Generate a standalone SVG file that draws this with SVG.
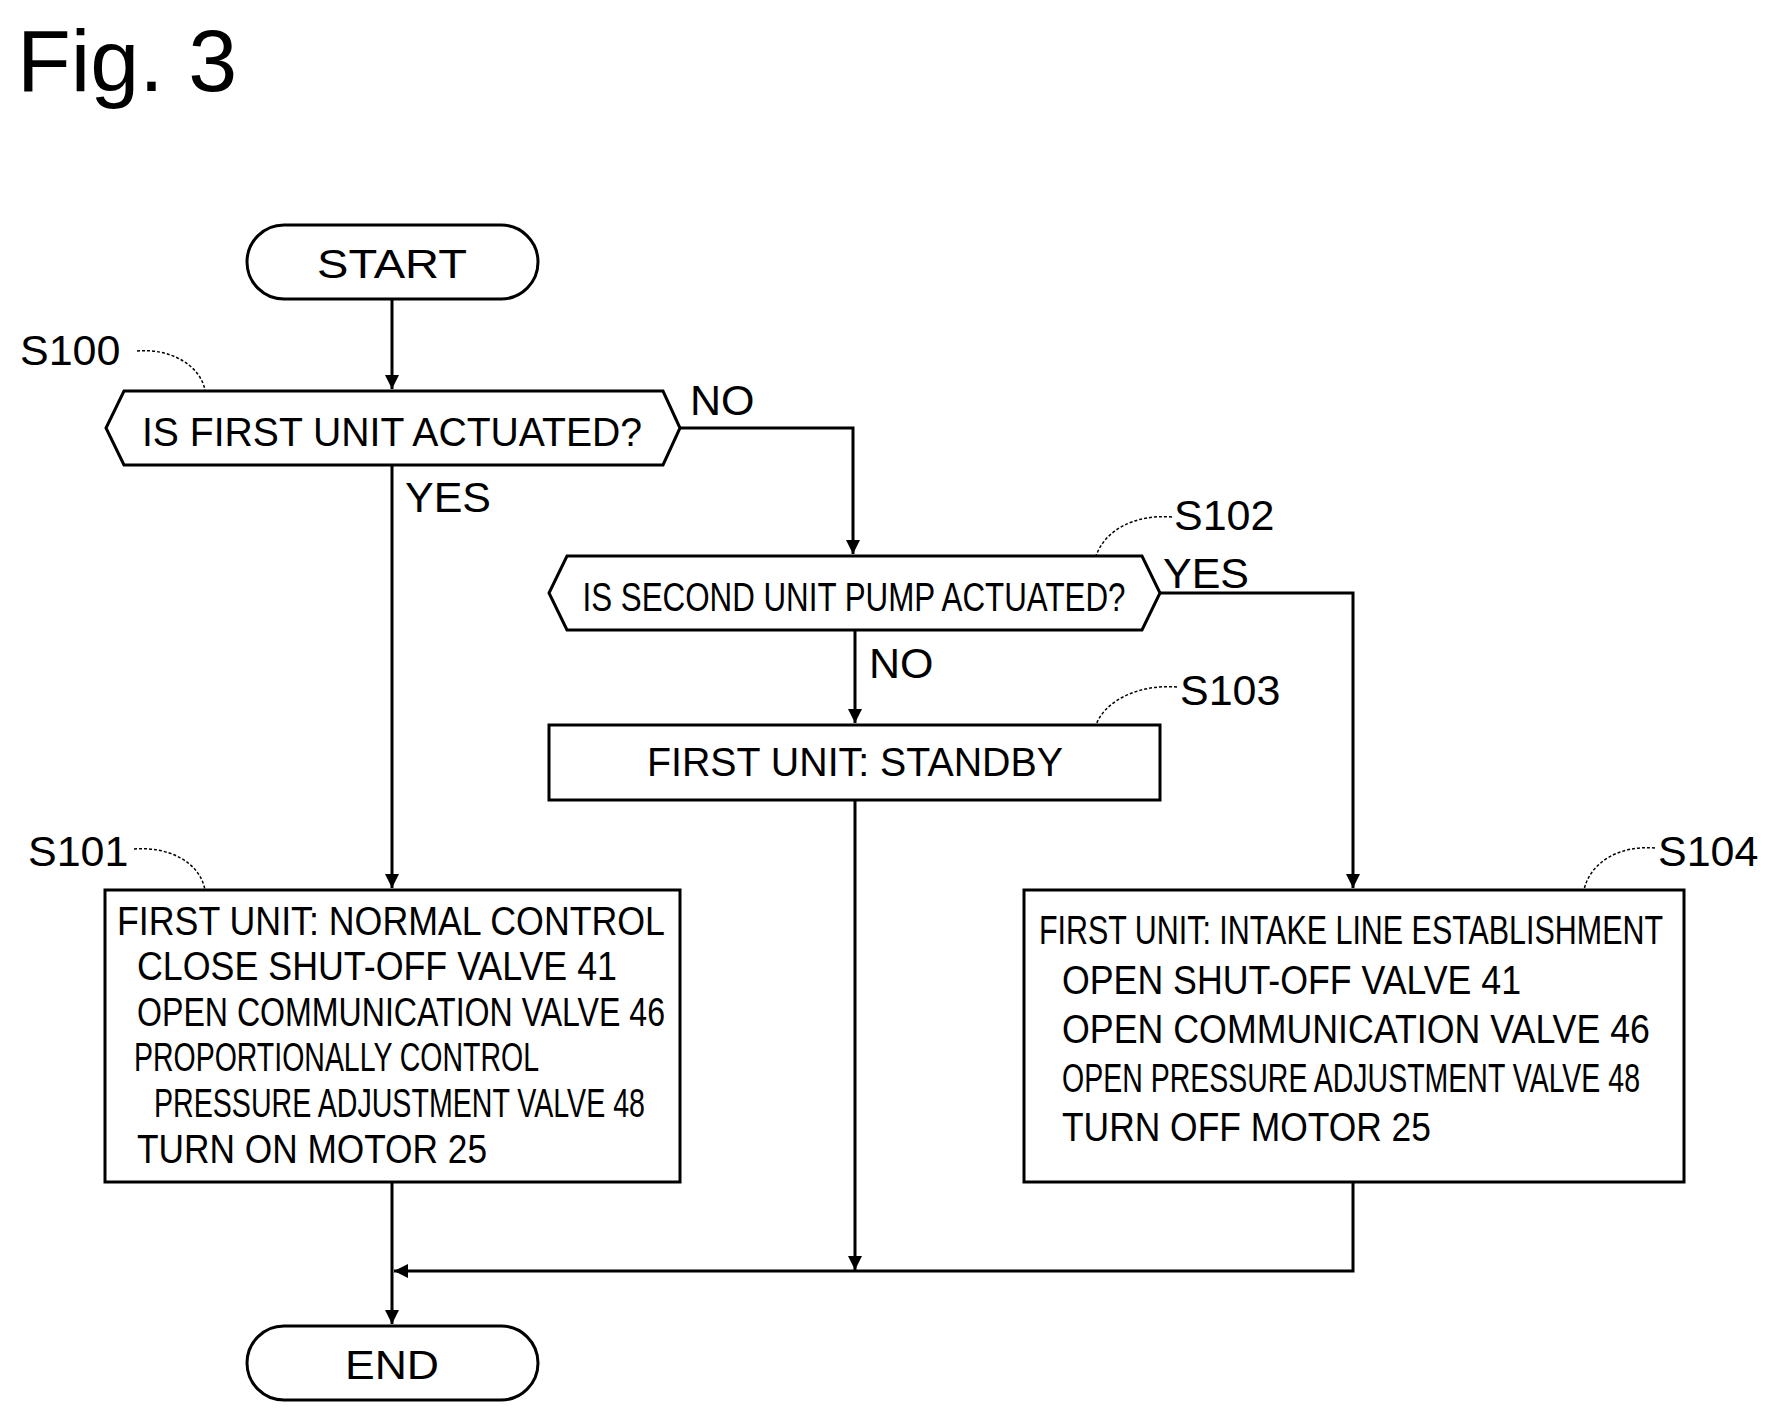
<svg xmlns="http://www.w3.org/2000/svg" width="1777" height="1416" viewBox="0 0 1777 1416">
<style>
text{font-family:"Liberation Sans",Arial,sans-serif;fill:#000}
.t{font-size:40px}
.c{text-anchor:middle}
.lbl{font-size:43px}
.s{fill:#fff;stroke:#000;stroke-width:3}
.ln{fill:none;stroke:#000;stroke-width:3}
.ld{fill:none;stroke:#000;stroke-width:1.5;stroke-dasharray:3 2}
</style>
<defs><marker id="ah" viewBox="0 0 10 10" refX="10" refY="5" markerWidth="14" markerHeight="16" orient="auto" markerUnits="userSpaceOnUse"><path d="M0,0L10,5L0,10z"/></marker></defs>
<text x="17" y="91" font-size="88">Fig. 3</text>
<g id="connectors">
<path class="ln" d="M392,299V389" marker-end="url(#ah)"/>
<path class="ln" d="M680,428H853V554" marker-end="url(#ah)"/>
<path class="ln" d="M392,465V888" marker-end="url(#ah)"/>
<path class="ln" d="M855,630V723" marker-end="url(#ah)"/>
<path class="ln" d="M1160,593H1353V888" marker-end="url(#ah)"/>
<path class="ln" d="M855,800V1270" marker-end="url(#ah)"/>
<path class="ln" d="M1353,1182V1271H394" marker-end="url(#ah)"/>
<path class="ln" d="M392,1182V1324" marker-end="url(#ah)"/>
<text x="690" y="415" class="lbl">NO</text>
<text x="405" y="512" class="lbl">YES</text>
<text x="1163" y="588" class="lbl">YES</text>
<text x="869" y="678" class="lbl">NO</text>
</g>
<g id="start"><rect class="s" x="247" y="225" width="291" height="74" rx="37"/><text x="392" y="278" class="t c" font-size="44" textLength="150" lengthAdjust="spacingAndGlyphs">START</text></g>
<g id="s100"><path class="s" d="M124,391H663L680,428L663,465H124L106,428Z"/><text x="392" y="446" class="t c" textLength="500" lengthAdjust="spacingAndGlyphs">IS FIRST UNIT ACTUATED?</text>
<text x="20" y="365" class="lbl">S100</text><path class="ld" d="M137,351C170,348 200,365 205,390"/></g>
<g id="s102"><path class="s" d="M567,556H1142L1160,593L1142,630H567L549,593Z"/><text x="854" y="611" class="t c" textLength="543" lengthAdjust="spacingAndGlyphs">IS SECOND UNIT PUMP ACTUATED?</text>
<text x="1174" y="530" class="lbl">S102</text><path class="ld" d="M1172,517C1135,514 1105,530 1096,556"/></g>
<g id="s103"><rect class="s" x="549" y="725" width="611" height="75"/><text x="855" y="776" class="t c" textLength="416" lengthAdjust="spacingAndGlyphs">FIRST UNIT: STANDBY</text>
<text x="1180" y="705" class="lbl">S103</text><path class="ld" d="M1177,687C1140,684 1105,700 1096,725"/></g>
<g id="s101"><rect class="s" x="105" y="890" width="575" height="292"/>
<text x="117" y="935" class="t" textLength="548" lengthAdjust="spacingAndGlyphs">FIRST UNIT: NORMAL CONTROL</text>
<text x="137" y="980" class="t" textLength="480" lengthAdjust="spacingAndGlyphs">CLOSE SHUT-OFF VALVE 41</text>
<text x="137" y="1026" class="t" textLength="528" lengthAdjust="spacingAndGlyphs">OPEN COMMUNICATION VALVE 46</text>
<text x="134" y="1071" class="t" textLength="405" lengthAdjust="spacingAndGlyphs">PROPORTIONALLY CONTROL</text>
<text x="154" y="1117" class="t" textLength="491" lengthAdjust="spacingAndGlyphs">PRESSURE ADJUSTMENT VALVE 48</text>
<text x="137" y="1163" class="t" textLength="350" lengthAdjust="spacingAndGlyphs">TURN ON MOTOR 25</text>
<text x="28" y="866" class="lbl">S101</text><path class="ld" d="M134,849C168,846 200,862 205,890"/></g>
<g id="s104"><rect class="s" x="1024" y="890" width="660" height="292"/>
<text x="1039" y="944" class="t" textLength="624" lengthAdjust="spacingAndGlyphs">FIRST UNIT: INTAKE LINE ESTABLISHMENT</text>
<text x="1062" y="994" class="t" textLength="459" lengthAdjust="spacingAndGlyphs">OPEN SHUT-OFF VALVE 41</text>
<text x="1062" y="1043" class="t" textLength="588" lengthAdjust="spacingAndGlyphs">OPEN COMMUNICATION VALVE 46</text>
<text x="1062" y="1092" class="t" textLength="578" lengthAdjust="spacingAndGlyphs">OPEN PRESSURE ADJUSTMENT VALVE 48</text>
<text x="1062" y="1141" class="t" textLength="369" lengthAdjust="spacingAndGlyphs">TURN OFF MOTOR 25</text>
<text x="1658" y="866" class="lbl">S104</text><path class="ld" d="M1655,848C1620,845 1590,862 1584,890"/></g>
<g id="end"><rect class="s" x="247" y="1326" width="291" height="74" rx="37"/><text x="392" y="1379" class="t c" font-size="44" textLength="94" lengthAdjust="spacingAndGlyphs">END</text></g>
</svg>
